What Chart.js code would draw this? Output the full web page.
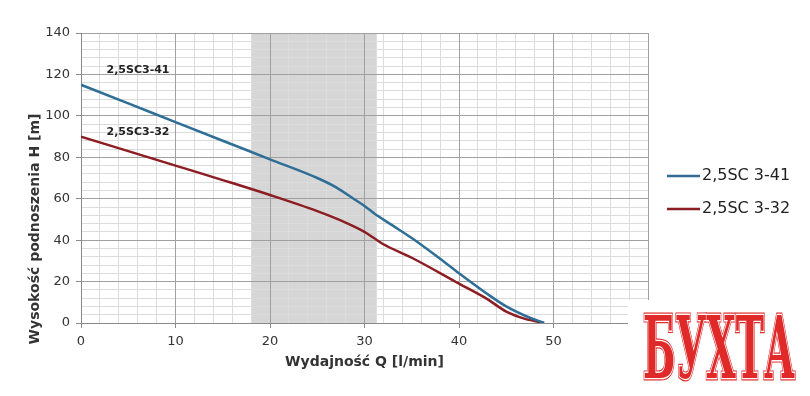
<!DOCTYPE html>
<html><head><meta charset="utf-8">
<script src="https://cdn.jsdelivr.net/npm/chart.js@4"></script>
<style>html,body{margin:0;padding:0;background:#fff}</style>
</head><body>
<canvas id="c" width="810" height="396"></canvas>
<script>
// ---- data ----
const seriesNames = ['2,5SC 3-41', '2,5SC 3-32'];
const curveLabels = ['2,5SC3-41', '2,5SC3-32'];
const q41 = [0, 5, 10, 15, 20, 25, 27, 29, 30, 31, 33, 35, 38, 40, 43, 45, 47, 49];
const h41 = [115, 106, 97, 88, 79, 70, 65.5, 59.5, 56.5, 53, 47, 41, 31, 24, 14, 8, 3.5, 0];
const q32 = [0, 5, 10, 15, 20, 25, 28, 30, 31, 32, 35, 40, 43, 45, 47, 49];
const h32 = [90, 83, 76, 69, 61.8, 54, 48.5, 44, 41, 38, 31.5, 19, 11.5, 5.5, 2, 0];
const bandRange = [18, 31.3];          // shaded operating range (l/min)
const labelAnchors = [[2.7, 122], [2.7, 92]]; // curve label anchors (x, y in data units)
const xTickStep = 10, yTickStep = 20, xMinorStep = 2, yMinorStep = 4;
const watermark = 'БУХТА';

const BLUE = '#2f6e96', RED = '#8c1d22';
const FONT = 'DejaVu Sans';

const bandPlugin = {
  id: 'band',
  beforeDraw(chart) {
    const {ctx, chartArea: a, scales: {x}} = chart;
    const x0 = x.getPixelForValue(bandRange[0]), x1 = x.getPixelForValue(bandRange[1]);
    ctx.save(); ctx.fillStyle = '#d6d6d6';
    ctx.fillRect(x0, a.top, x1 - x0, a.bottom - a.top);
    ctx.restore();
  }
};

const textPlugin = {
  id: 'texts',
  afterDatasetsDraw(chart) {
    const {ctx, scales: {x, y}} = chart;
    ctx.save();
    ctx.fillStyle = '#222';
    ctx.font = 'bold 11px "' + FONT + '"';
    ctx.textBaseline = 'middle'; ctx.textAlign = 'left';
    curveLabels.forEach((t, i) => {
      ctx.fillText(t, x.getPixelForValue(labelAnchors[i][0]), y.getPixelForValue(labelAnchors[i][1]));
    });
    ctx.restore();
  },
  afterDraw(chart) {
    const {ctx} = chart;
    ctx.save();
    // y-axis title
    ctx.translate(35, 229);
    ctx.rotate(-Math.PI / 2);
    ctx.fillStyle = '#333';
    ctx.font = 'bold 14px "' + FONT + '"';
    ctx.textAlign = 'center'; ctx.textBaseline = 'middle';
    ctx.fillText('Wysokość podnoszenia H [m]', 0, 0);
    ctx.restore();

    // legend
    ctx.save();
    const items = [[seriesNames[0], BLUE, 176], [seriesNames[1], RED, 209]];
    ctx.font = '16px "' + FONT + '"';
    ctx.textBaseline = 'middle'; ctx.textAlign = 'left';
    items.forEach(([t, c, yy]) => {
      ctx.strokeStyle = c; ctx.lineWidth = 2.5;
      ctx.beginPath(); ctx.moveTo(667, yy); ctx.lineTo(700, yy); ctx.stroke();
      ctx.fillStyle = '#222';
      ctx.fillText(t, 702, yy);
    });
    ctx.restore();

    // watermark
    ctx.save();
    ctx.fillStyle = '#fff';
    ctx.fillRect(628, 300, 182, 96);
    ctx.font = 'bold 86px "DejaVu Serif"';
    const w = ctx.measureText(watermark).width;
    ctx.translate(643, 378);
    ctx.scale(152 / w, 1);
    ctx.textBaseline = 'alphabetic'; ctx.textAlign = 'left';
    ctx.lineJoin = 'miter';
    ctx.strokeStyle = '#e02a2a'; ctx.lineWidth = 5; ctx.strokeText(watermark, 0, 0);
    ctx.strokeStyle = '#fff'; ctx.lineWidth = 2.6; ctx.strokeText(watermark, 0, 0);
    ctx.fillStyle = '#e02a2a'; ctx.fillText(watermark, 0, 0);
    ctx.restore();
  }
};

const pts = (qs, hs) => qs.map((q, i) => ({x: q, y: hs[i]}));

new Chart(document.getElementById('c').getContext('2d'), {
  type: 'line',
  data: {
    datasets: [
      {label: seriesNames[0], data: pts(q41, h41), borderColor: BLUE, borderWidth: 2.5,
       pointRadius: 0, cubicInterpolationMode: 'monotone', fill: false, xAxisID: 'x', yAxisID: 'y'},
      {label: seriesNames[1], data: pts(q32, h32), borderColor: RED, borderWidth: 2.5,
       pointRadius: 0, cubicInterpolationMode: 'monotone', fill: false, xAxisID: 'x', yAxisID: 'y'}
    ]
  },
  options: {
    responsive: false, animation: false, devicePixelRatio: 1,
    layout: {padding: {top: 33, right: 162, bottom: 0, left: 0}},
    plugins: {legend: {display: false}, tooltip: {enabled: false}},
    scales: {
      xm: {type: 'linear', min: 0, max: 60, position: 'bottom',
        ticks: {display: false, stepSize: xMinorStep},
        grid: {drawTicks: false, color: c => (c.tick && c.tick.value % xTickStep === 0) ? 'rgba(0,0,0,0)' : '#dcdcdc'},
        border: {display: false}},
      ym: {type: 'linear', min: 0, max: 140, position: 'left',
        ticks: {display: false, stepSize: yMinorStep},
        grid: {drawTicks: false, color: c => (c.tick && c.tick.value % yTickStep === 0) ? 'rgba(0,0,0,0)' : '#dcdcdc'},
        border: {display: false}},
      x: {type: 'linear', min: 0, max: 60, position: 'bottom',
        ticks: {stepSize: xTickStep, color: '#333', font: {family: FONT, size: 13}, padding: 6, maxRotation: 0},
        grid: {color: '#a0a0a0', tickLength: 5, tickColor: '#8a8a8a'},
        border: {color: '#8a8a8a'},
        title: {display: true, text: 'Wydajność Q [l/min]', color: '#333',
          font: {family: FONT, size: 14, weight: 'bold'}, padding: {top: 25, bottom: 25}},
        afterFit(s) { s.height = 73; }},
      y: {type: 'linear', min: 0, max: 140, position: 'left',
        ticks: {stepSize: yTickStep, color: '#333', font: {family: FONT, size: 13}, padding: 6},
        grid: {color: '#a0a0a0', tickLength: 5, tickColor: '#8a8a8a'},
        border: {color: '#8a8a8a'},
        afterFit(s) { s.width = 81; }}
    }
  },
  plugins: [bandPlugin, textPlugin]
});
</script>
</body></html>
